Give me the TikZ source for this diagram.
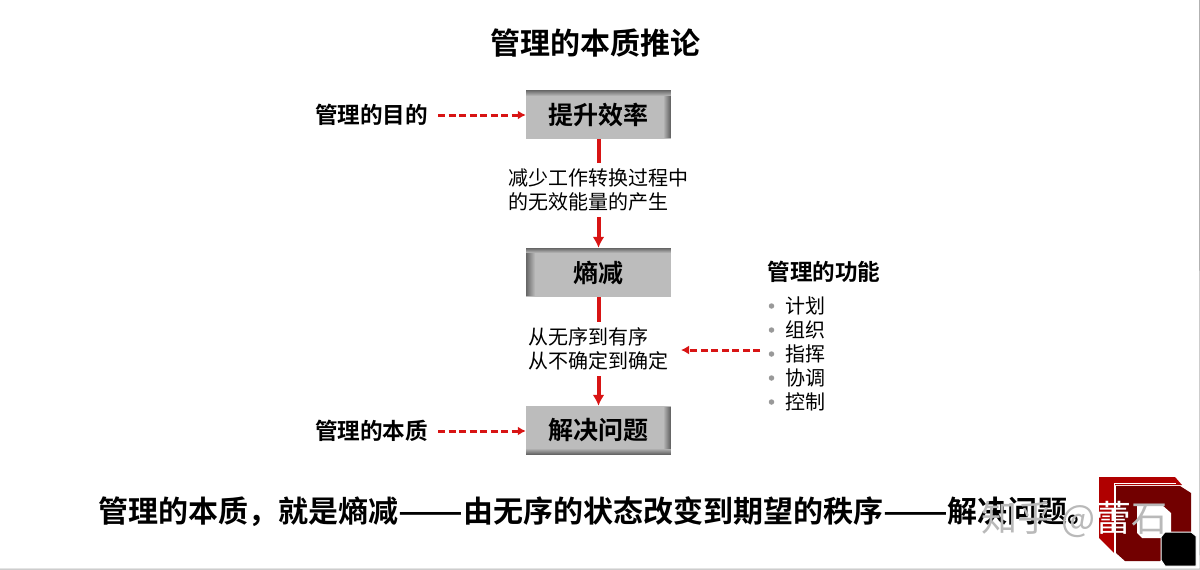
\documentclass[tikz,border=0pt]{standalone}
\usepackage{fontspec}
\setmainfont[BoldFont={Noto Sans CJK SC Bold}]{Noto Sans CJK SC}
\usetikzlibrary{calc, arrows.meta}
\definecolor{arrowred}{HTML}{D81414}
\definecolor{boxgray}{HTML}{BCBCBC}
\definecolor{edgegray}{HTML}{666666}
\definecolor{logored}{HTML}{B00000}
\definecolor{logodark}{HTML}{720000}
% strips from the lightest (widest) to the darkest (edge), width 1 stays plain
\tikzset{edges/.style n args={4}{path picture={
  \foreach \k in {#1,...,1}
  {
    \pgfmathsetmacro\p{100*(1-(\k-1)/#1)*(#1>1)}
    \fill [edgegray!\p!boxgray] (path picture bounding box.south west) rectangle ++(\k pt, 49pt);
  }
  \foreach \k in {#2,...,1}
  {
    \pgfmathsetmacro\p{100*(1-(\k-1)/#2)*(#2>1)}
    \fill [edgegray!\p!boxgray] (path picture bounding box.north east) rectangle ++(-\k pt, -49pt);
  }
  \foreach \k in {#3,...,1}
  {
    \pgfmathsetmacro\p{100*(1-(\k-1)/#3)*(#3>1)}
    \fill [edgegray!\p!boxgray] (path picture bounding box.north west) rectangle ++(145pt, -\k pt);
  }
  \foreach \k in {#4,...,1}
  {
    \pgfmathsetmacro\p{100*(1-(\k-1)/#4)*(#4>1)}
    \fill [edgegray!\p!boxgray] (path picture bounding box.south west) rectangle ++(145pt, \k pt);
  }
}}}
\begin{document}
\begin{tikzpicture}[x=1pt, y=-1pt]
      \tikzstyle{stage}=[minimum width=145pt, minimum height=49pt, inner sep=0pt,
        fill=boxgray, font=\fontsize{25}{25}\selectfont\bfseries]
      \tikzstyle{tag}=[inner sep=0pt, font=\fontsize{22.6}{22.6}\selectfont\bfseries]
      \tikzstyle{note}=[inner sep=0pt, align=left, font=\fontsize{20}{24}\selectfont]
      \tikzstyle{solidflow}=[draw=arrowred, line width=4pt]
      \tikzstyle{solidtip}=[-{Latex[length=11pt, width=12pt]}]
      \tikzstyle{dashflow}=[draw=arrowred, line width=3pt, dash pattern=on 7pt off 3.5pt,
        -{Latex[length=8pt, width=9pt]}]

      \path (0, 0) coordinate (nw) (1200, 570) coordinate (se);
      \useasboundingbox (nw) rectangle (se);
      \draw [gray!60, line width=1pt] (0, 569) -- (1200, 569) -- (1199.5, 0);

      \path (595.5, 43) node [inner sep=0pt, font=\fontsize{30}{30}\selectfont\bfseries] (title) {管理的本质推论};

      \path (598.5, 114.5) node [stage, edges={1}{7}{6}{1}] (lift) {提升效率};
      \path (598.5, 272.5) node [stage, edges={9}{1}{5}{1}] (entropy) {熵减};
      \path (598.5, 430.5) node [stage, edges={1}{7}{1}{6}] (solve) {解决问题};

      \path (598, 190) node [note, minimum height=54pt] (why) {减少工作转换过程中\\的无效能量的产生};
      \path (598.5, 349) node [note, minimum height=54pt] (how) {从无序到有序\\从不确定到确定};

      \path (371.5, 115) node [tag] (goal) {管理的目的};
      \path (371.5, 431) node [tag] (core) {管理的本质};
      \path (824, 272) node [tag] (func) {管理的功能};

      \foreach \i/\t in {0/计划, 1/组织, 2/指挥, 3/协调, 4/控制}
      {
        \path (805, 306+\i*24) node [note] (f\i) {\t};
        \path (771.5, 306+\i*24) node [circle, fill=gray!80, inner sep=0pt, minimum size=5.5pt] (b\i) {};
      }

      \draw [solidflow] (lift.south) -- (why.north -| lift.south);
      \draw [solidflow, solidtip] (why.south -| lift.south) -- (entropy.north);
      \draw [solidflow] (entropy.south) -- (how.north -| entropy.south);
      \draw [solidflow, solidtip] (how.south -| entropy.south) -- (solve.north);

      \coordinate (goalend) at (438, 115);
      \coordinate (coreend) at (438, 431);
      \coordinate (funcend) at (760, 350);
      \coordinate (howend) at (681, 350);
      \draw [dashflow] (goalend) -- (lift.west |- goalend);
      \draw [dashflow] (coreend) -- (solve.west |- coreend);
      \draw [dashflow] (funcend) -- (howend);

      % logo
      \fill [logored] (1099, 477) -- (1175, 477) -- (1182, 485) -- (1114, 485) -- (1114, 553) -- (1099, 538) -- cycle;
      \fill [logodark] (1116, 486) -- (1180, 486) -- (1191, 493) -- (1191, 535) -- (1160, 561) -- (1125, 561) -- (1116, 553) -- cycle;
      \draw [white, line width=1.2pt] (1176, 483.5) -- (1114.5, 483.5) -- (1114.5, 553);
      \fill [white] (1137, 505) -- (1162, 505) -- (1171, 513) -- (1171, 532) -- (1162, 538) -- (1142, 538) -- (1137, 533) -- cycle;
      \fill [black, draw=white, line width=1pt] (1165, 532) -- (1191, 532) -- (1196, 536) -- (1196, 566) -- (1165, 566) -- (1161, 560) -- (1161, 537) -- cycle;

      \path (98, 512) node [anchor=west, inner sep=0pt, font=\fontsize{30}{30}\selectfont\bfseries] (summary)
        {管理的本质，就是熵减\scalebox{1.27}[1]{——}由无序的状态改变到期望的秩序\scalebox{1.27}[1]{——}解决问题。};

      \path (1074.5, 519) node [inner sep=0pt, text=gray!55, font=\fontsize{36}{36}\selectfont] (mark) {知乎 @\textcolor{white}{蕾}石};
    \end{tikzpicture}
\end{document}
